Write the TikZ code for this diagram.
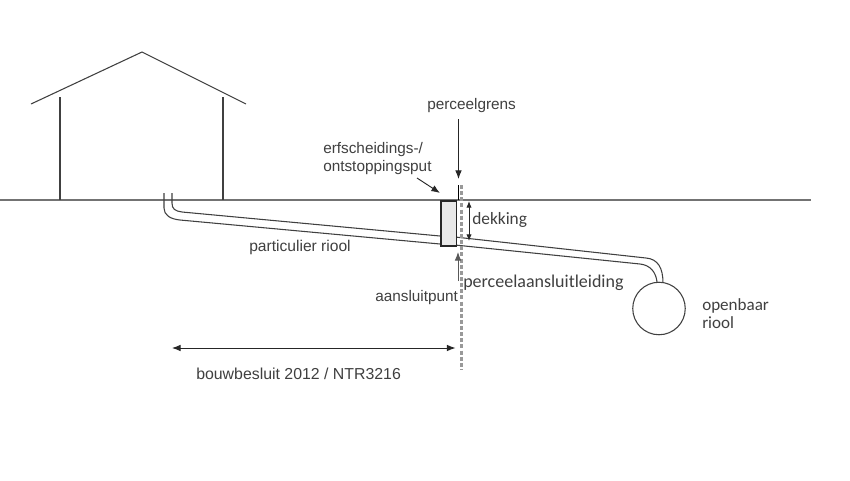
\documentclass[tikz,border=0pt]{standalone}
\usepackage{fontspec}
\setmainfont{Liberation Sans}
\newfontfamily\calib{Carlito}
\usetikzlibrary{arrows.meta}
\tikzset{
  ln/.style={draw=black!75,line width=0.8pt},
  grnd/.style={draw=black!55,line width=1.1pt},
  arr/.style={draw=black!85,line width=0.7pt,-{Latex[length=6.5pt,width=5pt]}},
  lbl/.style={font=\fontsize{11.5pt}{12.8pt}\selectfont,text=black!75,inner sep=0pt,align=left},
  clbl/.style={font=\calib\fontsize{12.8pt}{14pt}\selectfont,text=black!75,inner sep=0pt,align=left}
}
\begin{document}
\begin{tikzpicture}[x=0.75pt,y=-0.75pt]
\useasboundingbox (0,0) rectangle (850,480);
\fill[white] (0,0) rectangle (850,480);
% coordinates
\coordinate (gl) at (0,200);
\coordinate (gr) at (811,200);
\coordinate (eaveL) at (31,104);
\coordinate (apex) at (142,52);
\coordinate (eaveR) at (246,104);
% ground and house
\draw[grnd] (gl) -- (gr);
\draw[ln] (eaveL) -- (apex) -- (eaveR);
\draw[ln] (60,97) -- (60,200);
\draw[ln] (223,97) -- (223,200);
% pipes
\draw[ln] (172,193) -- (172,203) .. controls (172,209) and (175,211) .. (182,212) -- (440,236);
\draw[ln] (164,193) -- (164,208) .. controls (164,215) and (170,219) .. (180,220) -- (440,244);
\draw[ln] (455,237) -- (646,258) .. controls (658,259) and (663,268) .. (663,283);
\draw[ln] (455,245) -- (640,264) .. controls (650,265) and (656,272) .. (657,282);
% public sewer
\node[circle,draw=black!75,line width=0.8pt,fill=white,minimum size=52.5*0.75pt,inner sep=0pt] (riool) at (659,308.5) {};
% property line
\coordinate (dTop) at (461.5,185);
\coordinate (dBot) at (461.5,370);
\draw[draw=black!40,line width=1.9pt,dash pattern=on 3pt off 1.6pt] (dTop) -- (dBot);
\draw[draw=black,line width=0.8pt] (458.5,185) -- (458.5,200);
% manhole
\node[draw=black!85,line width=1.4pt,fill=black!9,minimum width=15.5*0.75pt,minimum height=45*0.75pt,inner sep=0pt,anchor=north west] (put) at (440,200) {};
% arrows
\coordinate (a1) at (458.5,119);
\coordinate (a2) at (458.5,179);
\draw[arr] (a1) -- (a2);
\coordinate (a3) at (417,178);
\coordinate (a4) at (440,193);
\draw[arr] (a3) -- (a4);
\coordinate (a5) at (458,281);
\coordinate (a6) at (458,252);
\draw[arr,draw=black!65] (a5) -- (a6);
\coordinate (d1) at (469,201);
\coordinate (d2) at (469,241);
\draw[draw=black!85,line width=0.7pt,{Latex[length=5pt,width=4pt]}-{Latex[length=5pt,width=4pt]}] (d1) -- (d2);
\coordinate (b1) at (172,348);
\coordinate (b2) at (455.5,348);
\draw[draw=black!85,line width=0.7pt,{Latex[length=6.5pt,width=5pt]}-{Latex[length=6.5pt,width=5pt]}] (b1) -- (b2);
% labels
\node[lbl,anchor=west] (t1) at (427,105.5) {perceelgrens};
\node[lbl,anchor=west] (t2) at (323,158.5) {erfscheidings-/\\ontstoppingsput};
\node[clbl,anchor=west,font=\calib\fontsize{13pt}{14pt}\selectfont] (t3) at (472,220) {dekking};
\node[lbl,anchor=west,font=\fontsize{11.7pt}{13pt}\selectfont] (t4) at (249,247) {particulier riool};
\node[clbl,anchor=west,font=\calib\fontsize{13.5pt}{15pt}\selectfont] (t5) at (463,283) {perceelaansluitleiding};
\node[lbl,anchor=west] (t6) at (375,298) {aansluitpunt};
\node[clbl,anchor=west] (t7) at (702,313.5) {openbaar\\riool};
\node[lbl,anchor=west,font=\fontsize{11.9pt}{13pt}\selectfont] (t8) at (196,374) {bouwbesluit 2012 / NTR3216};
\end{tikzpicture}
\end{document}
